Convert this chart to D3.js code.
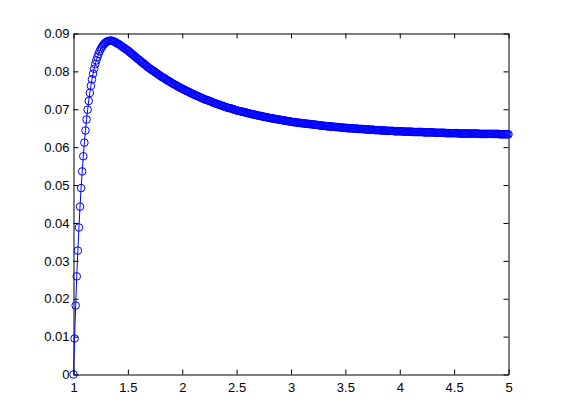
<!DOCTYPE html>
<html><head><meta charset="utf-8">
<script src="https://cdn.jsdelivr.net/npm/d3@7"></script>
<style>body{margin:0;background:#fff}svg{display:block}</style>
</head><body>
<script>
// x samples: 1.00 to 5.00 in steps of 0.01
const xStart = 1, xStep = 0.01, nPoints = 401;
// y values, one per 0.01 step
const yValues = [
0, .0095, .0182, .0259, .0327, .0388, .0443, .0492, .0536, .0576,
.0612, .0644, .0673, .0699, .0722, .0743, .0762, .0779, .0794, .0807,
.0819, .0829, .0838, .0846, .0853, .0859, .0864, .0868, .0872, .0875,
.0877, .0879, .0880, .0881, .0881, .0881, .0880, .0879, .0878, .0876,
.0874, .0873, .0871, .0869, .0867, .0865, .0863, .0861, .0859, .0857,
.0855, .0853, .0850, .0848, .0845, .0843, .0841, .0838, .0836, .0833,
.0831, .0829, .0826, .0824, .0822, .0819, .0817, .0815, .0812, .0810,
.0808, .0806, .0804, .0802, .0800, .0798, .0796, .0794, .0792, .0790,
.0788, .0786, .0784, .0783, .0781, .0779, .0777, .0775, .0774, .0772,
.0770, .0768, .0767, .0765, .0764, .0762, .0760, .0759, .0757, .0756,
.0754, .0753, .0751, .0750, .0748, .0747, .0746, .0744, .0743, .0741,
.0740, .0739, .0737, .0736, .0735, .0734, .0732, .0731, .0730, .0728,
.0727, .0726, .0725, .0724, .0723, .0722, .0721, .0720, .0718, .0717,
.0716, .0715, .0714, .0713, .0712, .0711, .0710, .0709, .0708, .0707,
.0706, .0705, .0704, .0703, .0703, .0702, .0701, .0700, .0699, .0698,
.0697, .0696, .0696, .0695, .0694, .0694, .0693, .0692, .0692, .0691,
.0690, .0689, .0689, .0688, .0687, .0687, .0686, .0685, .0685, .0684,
.0683, .0683, .0682, .0682, .0681, .0680, .0680, .0679, .0679, .0678,
.0677, .0677, .0676, .0676, .0675, .0675, .0674, .0674, .0673, .0673,
.0672, .0672, .0671, .0671, .0670, .0670, .0669, .0669, .0668, .0668,
.0667, .0667, .0666, .0666, .0666, .0665, .0665, .0664, .0664, .0664,
.0663, .0663, .0663, .0662, .0662, .0662, .0661, .0661, .0661, .0660,
.0660, .0660, .0659, .0659, .0659, .0658, .0658, .0657, .0657, .0657,
.0656, .0656, .0656, .0655, .0655, .0655, .0655, .0654, .0654, .0654,
.0654, .0653, .0653, .0653, .0653, .0652, .0652, .0652, .0651, .0651,
.0651, .0651, .0650, .0650, .0650, .0650, .0650, .0649, .0649, .0649,
.0649, .0649, .0648, .0648, .0648, .0648, .0648, .0647, .0647, .0647,
.0647, .0647, .0646, .0646, .0646, .0646, .0646, .0645, .0645, .0645,
.0645, .0645, .0645, .0644, .0644, .0644, .0644, .0644, .0643, .0643,
.0643, .0643, .0643, .0643, .0643, .0642, .0642, .0642, .0642, .0642,
.0642, .0642, .0642, .0641, .0641, .0641, .0641, .0641, .0641, .0641,
.0641, .0641, .0640, .0640, .0640, .0640, .0640, .0640, .0640, .0640,
.0640, .0640, .0639, .0639, .0639, .0639, .0639, .0639, .0639, .0639,
.0639, .0639, .0638, .0638, .0638, .0638, .0638, .0638, .0638, .0638,
.0638, .0638, .0637, .0637, .0637, .0637, .0637, .0637, .0637, .0637,
.0637, .0637, .0637, .0637, .0636, .0636, .0636, .0636, .0636, .0636,
.0636, .0636, .0636, .0636, .0636, .0636, .0636, .0636, .0636, .0636,
.0636, .0636, .0636, .0635, .0635, .0635, .0635, .0635, .0635, .0635,
.0635, .0635, .0635, .0635, .0635, .0635, .0635, .0635, .0635, .0635,
.0635, .0635, .0634, .0634, .0634, .0634, .0634, .0634, .0634, .0634,
.0634
];
const xTicks = [1, 1.5, 2, 2.5, 3, 3.5, 4, 4.5, 5];
const xTickLabels = ["1", "1.5", "2", "2.5", "3", "3.5", "4", "4.5", "5"];
const yTicks = [0, 0.01, 0.02, 0.03, 0.04, 0.05, 0.06, 0.07, 0.08, 0.09];
const yTickLabels = ["0", "0.01", "0.02", "0.03", "0.04", "0.05", "0.06", "0.07", "0.08", "0.09"];

const W = 561, H = 420;
const L = 73.5, R = 508.5, T = 33.5, B = 374.5;
const data = yValues.slice(0, nPoints).map((v, i) => ({x: xStart + i * xStep, y: v}));

const svg = d3.select("body").append("svg").attr("width", W).attr("height", H);
svg.append("rect").attr("width", W).attr("height", H).attr("fill", "#fff");

const x = d3.scaleLinear().domain([1, 5]).range([L, R]);
const y = d3.scaleLinear().domain([0, 0.09]).range([B, T]);

const font = "Arial, 'Liberation Sans', Helvetica, sans-serif";
const tickLen = 5;

// axes (MATLAB style: ticks inward, box on)
const gx = svg.append("g").attr("transform", `translate(0,${B})`)
  .call(d3.axisBottom(x).tickValues(xTicks).tickFormat((d, i) => xTickLabels[i]).tickSizeInner(-tickLen).tickSizeOuter(0).tickPadding(8));
const gxTop = svg.append("g").attr("transform", `translate(0,${T})`)
  .call(d3.axisTop(x).tickValues(xTicks).tickFormat("").tickSizeInner(-tickLen).tickSizeOuter(0));
const gy = svg.append("g").attr("transform", `translate(${L},0)`)
  .call(d3.axisLeft(y).tickValues(yTicks).tickFormat((d, i) => yTickLabels[i]).tickSizeInner(-tickLen).tickSizeOuter(0).tickPadding(4));
const gyR = svg.append("g").attr("transform", `translate(${R},0)`)
  .call(d3.axisRight(y).tickValues(yTicks).tickFormat("").tickSizeInner(-tickLen).tickSizeOuter(0));

[gx, gxTop, gy, gyR].forEach(g => {
  g.select(".domain").attr("stroke", "#000").attr("stroke-width", 1);
  g.selectAll(".tick line").attr("stroke", "#000").attr("stroke-width", 1);
  g.selectAll("text").attr("font-family", font).attr("font-size", 13).attr("fill", "#000");
});

// line
const line = d3.line().x(d => x(d.x)).y(d => y(d.y));
svg.append("path").datum(data).attr("d", line)
  .attr("fill", "none").attr("stroke", "#0000ff").attr("stroke-width", 1);

// markers
svg.append("g").selectAll("circle").data(data).join("circle")
  .attr("cx", d => x(d.x)).attr("cy", d => y(d.y)).attr("r", 3.8)
  .attr("fill", "none").attr("stroke", "#0000ff").attr("stroke-width", 1);
</script>
</body></html>
